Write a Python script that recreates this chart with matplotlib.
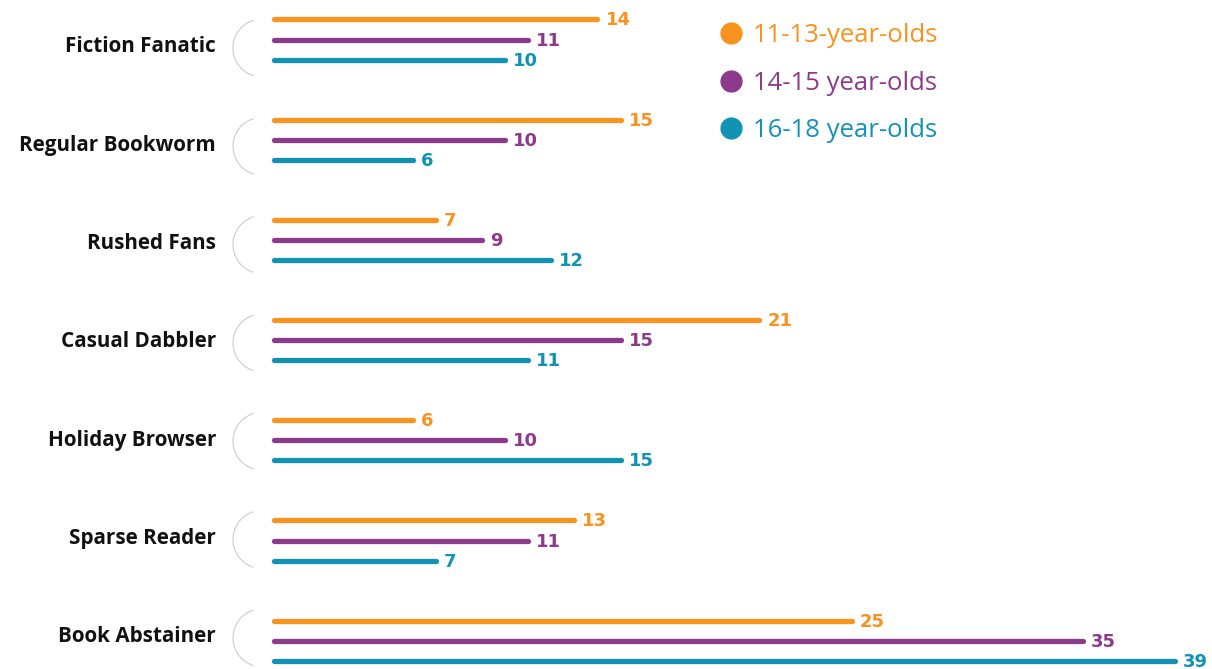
import numpy as np
import matplotlib.pyplot as plt
from matplotlib.lines import Line2D

# Данные графика
categories = ['Fiction Fanatic', 'Regular Bookworm', 'Rushed Fans', 'Casual Dabbler',
              'Holiday Browser', 'Sparse Reader', 'Book Abstainer']
ages_11_13 = [14, 15, 7, 21, 6, 13, 25]
ages_14_15 = [11, 10, 9, 15, 10, 11, 35]
ages_16_18 = [10, 6, 12, 11, 15, 7, 39]
series_names = ['11-13-year-olds', '14-15 year-olds', '16-18 year-olds']
series_colors = ['#F7931E', '#8E3A8C', '#1393B3']

# пиксели -> данные
X0, PX_PER_UNIT = 274, 23.1
Y0, PX_PER_ROW = 39.5, 100.2


def px_to_data(px, py):
    return (np.asarray(px) - X0) / PX_PER_UNIT, (np.asarray(py) - Y0) / PX_PER_ROW


fig = plt.figure(figsize=(12.12, 6.69), dpi=100)
ax = fig.add_axes([0, 0, 1, 1])
ax.set_xlim(-X0 / PX_PER_UNIT, (1212 - X0) / PX_PER_UNIT)
ax.set_ylim((669 - Y0) / PX_PER_ROW, -Y0 / PX_PER_ROW)
ax.axis('off')

offsets = [-0.2, 0.0, 0.2]
all_series = [ages_11_13, ages_14_15, ages_16_18]

for i, cat in enumerate(categories):
    # подпись категории (шаг чуть меньше, чем у полос)
    label_py = 47 + 98.3 * i
    lx, ly = px_to_data(216, label_py)
    ax.text(lx, ly, cat, ha='right', va='center', fontsize=14.9,
            fontweight='bold', family='Open Sans', color='#111111')
    # дуга-скобка
    ang = np.radians(np.linspace(108, 252, 60))
    apx = 262 + 29 * np.cos(ang)
    apy = label_py + 1 - 29 * np.sin(ang)
    arc_x, arc_y = px_to_data(apx, apy)
    ax.plot(arc_x, arc_y, color='#cccccc', lw=0.8)

    for vals, off, col in zip(all_series, offsets, series_colors):
        v = vals[i]
        ax.plot([0, v], [i + off, i + off], color=col, lw=3.8,
                solid_capstyle='round')
        ax.text(v + 0.35, i + off + 0.01, str(v), ha='left', va='center',
                fontsize=13, fontweight='bold', color=col)

handles = [Line2D([], [], marker='o', linestyle='', markersize=15,
                  markerfacecolor=c, markeredgecolor=c) for c in series_colors]
leg = fig.legend(handles, series_names, loc='upper left',
                 bbox_to_anchor=(694 / 1212, 1.0), frameon=False,
                 prop={'family': 'Open Sans', 'size': 18.5}, labelspacing=0.88,
                 handletextpad=0.3, handlelength=1.1)
for t, c in zip(leg.get_texts(), series_colors):
    t.set_color(c)

plt.savefig('out.png', dpi=100)
